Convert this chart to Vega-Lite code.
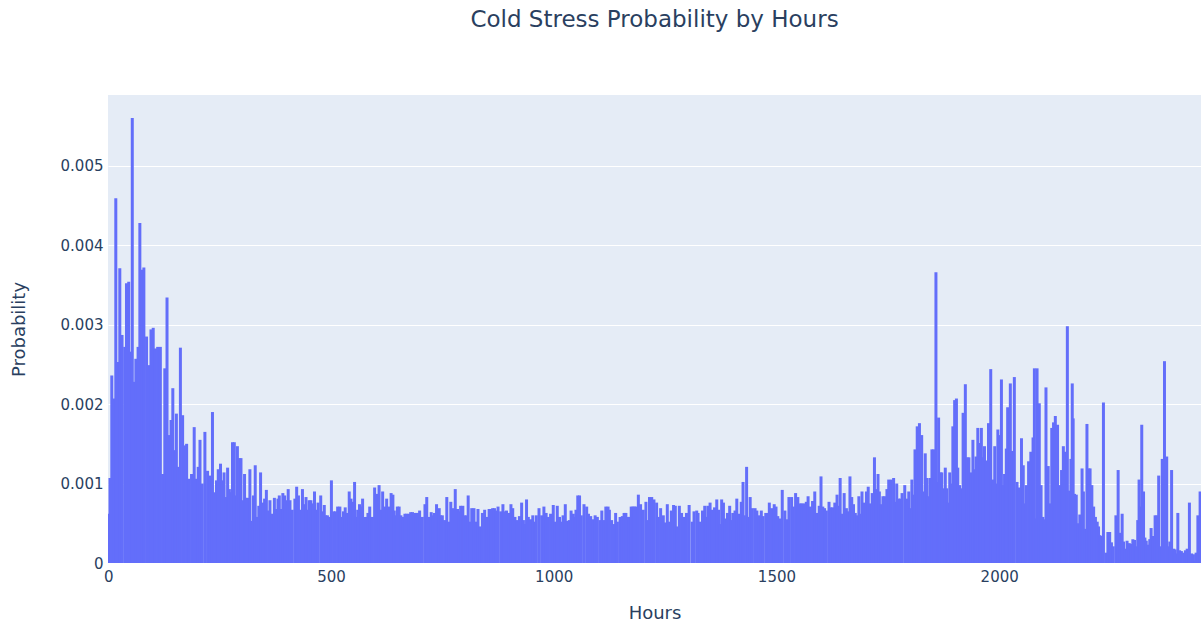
{
  "$schema": "https://vega.github.io/schema/vega-lite/v6.json",
  "width": 1093,
  "height": 468,
  "autosize": {"type": "none"},
  "padding": {"left": 108, "top": 95, "right": 2, "bottom": 62},
  "background": "white",
  "title": {
    "text": "Cold Stress Probability by Hours",
    "font": "DejaVu Sans",
    "fontSize": 23,
    "fontWeight": "normal",
    "color": "#2a3f5f",
    "anchor": "middle",
    "baseline": "alphabetic",
    "offset": 45
  },
  "data": {
    "values": [
{"h":0,"p":0.00062},{"h":4,"p":0.00107},{"h":8,"p":0.00236},{"h":13,"p":0.00207},{"h":17,"p":0.00459},{"h":21,"p":0.00253},{"h":26,"p":0.00371},{"h":31,"p":0.00287},{"h":37,"p":0.00272},{"h":41,"p":0.00352},{"h":46,"p":0.00354},{"h":50,"p":0.00266},{"h":54,"p":0.0056},{"h":59,"p":0.00228},{"h":62,"p":0.00257},{"h":67,"p":0.00272},{"h":71,"p":0.00428},{"h":76,"p":0.00369},{"h":80,"p":0.00372},{"h":86,"p":0.00285},{"h":91,"p":0.00249},{"h":96,"p":0.00294},{"h":101,"p":0.00296},{"h":106,"p":0.0027},{"h":111,"p":0.00272},{"h":117,"p":0.00272},{"h":122,"p":0.00112},{"h":127,"p":0.00245},{"h":132,"p":0.00334},{"h":137,"p":0.00161},{"h":141,"p":0.0018},{"h":145,"p":0.0022},{"h":149,"p":0.00142},{"h":153,"p":0.00188},{"h":157,"p":0.00121},{"h":162,"p":0.00271},{"h":167,"p":0.00186},{"h":171,"p":0.00148},{"h":176,"p":0.0015},{"h":181,"p":0.00106},{"h":187,"p":0.00112},{"h":193,"p":0.00171},{"h":198,"p":0.00106},{"h":202,"p":0.00121},{"h":206,"p":0.00155},{"h":211,"p":0.001},{"h":217,"p":0.00165},
{"h":223,"p":0.00116},{"h":228,"p":0.0011},{"h":234,"p":0.0019},{"h":238,"p":0.00089},{"h":243,"p":0.00104},{"h":247,"p":0.00118},{"h":252,"p":0.00125},{"h":256,"p":0.00104},{"h":260,"p":0.00114},{"h":265,"p":0.00083},{"h":268,"p":0.0012},{"h":272,"p":0.00093},{"h":276,"p":0.00089},{"h":279,"p":0.00152},{"h":283,"p":0.00152},{"h":286,"p":0.00085},{"h":290,"p":0.00147},{"h":294,"p":0.00132},{"h":298,"p":0.00132},{"h":302,"p":0.00079},{"h":306,"p":0.00112},{"h":309,"p":0.00082},{"h":313,"p":0.00082},{"h":318,"p":0.00118},{"h":322,"p":0.00053},{"h":326,"p":0.00085},{"h":330,"p":0.00123},{"h":334,"p":0.00058},{"h":338,"p":0.00072},{"h":342,"p":0.00114},{"h":347,"p":0.00076},{"h":351,"p":0.00081},{"h":355,"p":0.00092},{"h":360,"p":0.00066},{"h":363,"p":0.00079},{"h":368,"p":0.00062},{"h":373,"p":0.00082},{"h":377,"p":0.00068},{"h":381,"p":0.00081},{"h":384,"p":0.00085},{"h":388,"p":0.00068},{"h":392,"p":0.00088},{"h":396,"p":0.00085},{"h":399,"p":0.00079},{"h":404,"p":0.00093},{"h":408,"p":0.00079},{"h":413,"p":0.00067},{"h":419,"p":0.00081},{"h":423,"p":0.00096},{"h":427,"p":0.00085},{"h":432,"p":0.00067},{"h":436,"p":0.00093},{"h":440,"p":0.00074},
{"h":444,"p":0.00083},{"h":448,"p":0.00067},{"h":451,"p":0.00079},{"h":455,"p":0.00079},{"h":459,"p":0.00075},{"h":463,"p":0.0009},{"h":467,"p":0.00067},{"h":471,"p":0.00076},{"h":477,"p":0.00085},{"h":482,"p":0.00065},{"h":485,"p":0.00073},{"h":488,"p":0.0006},{"h":492,"p":0.0006},{"h":496,"p":0.00058},{"h":501,"p":0.00104},{"h":506,"p":0.00065},{"h":510,"p":0.00065},{"h":515,"p":0.00071},{"h":520,"p":0.00071},{"h":524,"p":0.00058},{"h":528,"p":0.00065},{"h":532,"p":0.0007},{"h":536,"p":0.00063},{"h":541,"p":0.0009},{"h":545,"p":0.00081},{"h":549,"p":0.00077},{"h":553,"p":0.00102},{"h":557,"p":0.00058},{"h":560,"p":0.00067},{"h":564,"p":0.00074},{"h":568,"p":0.00071},{"h":571,"p":0.00081},{"h":575,"p":0.00058},{"h":579,"p":0.00058},{"h":583,"p":0.00063},{"h":587,"p":0.00071},{"h":593,"p":0.00058},{"h":598,"p":0.00095},{"h":603,"p":0.00087},{"h":608,"p":0.00098},{"h":613,"p":0.00067},{"h":616,"p":0.0009},{"h":621,"p":0.00071},{"h":625,"p":0.00081},{"h":630,"p":0.00071},{"h":635,"p":0.00088},{"h":639,"p":0.00086},{"h":642,"p":0.00066},{"h":646,"p":0.0006},{"h":649,"p":0.00071},{"h":653,"p":0.00071},{"h":657,"p":0.0006},{"h":661,"p":0.00058},{"h":666,"p":0.00062},{"h":670,"p":0.00062},{"h":675,"p":0.00062},{"h":679,"p":0.00064},{"h":683,"p":0.00064},{"h":687,"p":0.00063},{"h":691,"p":0.00063},{"h":695,"p":0.00063},{"h":699,"p":0.00066},{"h":705,"p":0.00058},{"h":711,"p":0.00074},{"h":715,"p":0.00083},{"h":720,"p":0.00058},{"h":725,"p":0.00064},{"h":729,"p":0.0006},{"h":732,"p":0.00063},{"h":737,"p":0.00074},{"h":743,"p":0.00069},{"h":746,"p":0.0006},{"h":750,"p":0.0006},{"h":755,"p":0.00054},{"h":760,"p":0.00083},{"h":764,"p":0.00052},{"h":769,"p":0.00077},{"h":775,"p":0.00069},{"h":779,"p":0.00093},{"h":784,"p":0.00068},{"h":788,"p":0.00065},{"h":791,"p":0.00072},{"h":796,"p":0.00072},{"h":799,"p":0.0006},{"h":804,"p":0.0006},{"h":808,"p":0.00085},{"h":812,"p":0.00052},{"h":816,"p":0.00069},{"h":821,"p":0.00069},{"h":826,"p":0.00052},{"h":830,"p":0.00068},{"h":835,"p":0.00046},{"h":840,"p":0.00063},{"h":845,"p":0.00067},{"h":851,"p":0.00058},{"h":855,"p":0.00068},{"h":859,"p":0.00068},{"h":863,"p":0.00069},{"h":867,"p":0.00069},
{"h":871,"p":0.00066},{"h":875,"p":0.00071},{"h":881,"p":0.00065},{"h":886,"p":0.00074},{"h":889,"p":0.00065},{"h":894,"p":0.00066},{"h":900,"p":0.00063},{"h":904,"p":0.00074},{"h":908,"p":0.00069},{"h":913,"p":0.00058},{"h":918,"p":0.00054},{"h":923,"p":0.00059},{"h":928,"p":0.00076},{"h":932,"p":0.00054},{"h":935,"p":0.00049},{"h":939,"p":0.0008},{"h":943,"p":0.00058},{"h":948,"p":0.00055},{"h":953,"p":0.0006},{"h":957,"p":0.00052},{"h":961,"p":0.0006},{"h":967,"p":0.00069},{"h":973,"p":0.0006},{"h":978,"p":0.00071},{"h":983,"p":0.00063},{"h":988,"p":0.00058},{"h":993,"p":0.00062},{"h":999,"p":0.00073},{"h":1003,"p":0.00052},{"h":1008,"p":0.00072},{"h":1013,"p":0.00058},{"h":1017,"p":0.00052},{"h":1021,"p":0.0006},{"h":1026,"p":0.00074},{"h":1031,"p":0.00053},{"h":1035,"p":0.00054},{"h":1039,"p":0.00066},{"h":1044,"p":0.00062},{"h":1047,"p":0.00058},{"h":1050,"p":0.00067},{"h":1054,"p":0.00085},{"h":1058,"p":0.00085},{"h":1062,"p":0.0006},{"h":1068,"p":0.00074},{"h":1074,"p":0.00071},{"h":1078,"p":0.00062},{"h":1083,"p":0.00059},{"h":1089,"p":0.00055},{"h":1093,"p":0.0006},{"h":1098,"p":0.00058},{"h":1104,"p":0.00054},{"h":1108,"p":0.00066},{"h":1113,"p":0.00054},{"h":1117,"p":0.00071},{"h":1122,"p":0.00071},{"h":1125,"p":0.00067},{"h":1130,"p":0.00054},{"h":1135,"p":0.00049},{"h":1139,"p":0.00063},{"h":1143,"p":0.00052},{"h":1149,"p":0.00058},{"h":1154,"p":0.00059},{"h":1158,"p":0.00063},{"h":1162,"p":0.00063},{"h":1166,"p":0.00058},{"h":1170,"p":0.00058},{"h":1174,"p":0.00071},{"h":1178,"p":0.00071},{"h":1181,"p":0.00071},{"h":1185,"p":0.00071},{"h":1190,"p":0.00086},{"h":1195,"p":0.00074},{"h":1201,"p":0.00067},{"h":1207,"p":0.00077},{"h":1211,"p":0.00054},{"h":1215,"p":0.00083},{"h":1220,"p":0.00083},{"h":1225,"p":0.0008},{"h":1231,"p":0.00076},{"h":1235,"p":0.00058},{"h":1240,"p":0.00069},{"h":1246,"p":0.0006},{"h":1250,"p":0.00051},{"h":1255,"p":0.00074},{"h":1260,"p":0.00052},{"h":1264,"p":0.00066},{"h":1269,"p":0.00073},{"h":1273,"p":0.00072},{"h":1277,"p":0.00046},{"h":1282,"p":0.00072},{"h":1287,"p":0.00063},{"h":1293,"p":0.00058},{"h":1298,"p":0.00063},{"h":1304,"p":0.00073},
{"h":1311,"p":0.00052},{"h":1315,"p":0.00065},{"h":1321,"p":0.00066},{"h":1324,"p":0.00063},{"h":1328,"p":0.00052},{"h":1334,"p":0.00066},{"h":1339,"p":0.00072},{"h":1342,"p":0.00058},{"h":1346,"p":0.00072},{"h":1351,"p":0.00076},{"h":1356,"p":0.00067},{"h":1361,"p":0.0007},{"h":1366,"p":0.0008},{"h":1370,"p":0.00067},{"h":1373,"p":0.00049},{"h":1377,"p":0.0008},{"h":1381,"p":0.00076},{"h":1385,"p":0.00056},{"h":1390,"p":0.00063},{"h":1395,"p":0.00072},{"h":1398,"p":0.00054},{"h":1402,"p":0.00063},{"h":1407,"p":0.00066},{"h":1411,"p":0.00081},{"h":1416,"p":0.00062},{"h":1421,"p":0.00077},{"h":1425,"p":0.00102},{"h":1428,"p":0.0006},{"h":1433,"p":0.00121},{"h":1437,"p":0.00058},{"h":1441,"p":0.00083},{"h":1446,"p":0.00069},{"h":1452,"p":0.00069},{"h":1456,"p":0.00066},{"h":1461,"p":0.0006},{"h":1466,"p":0.00066},{"h":1470,"p":0.00059},{"h":1476,"p":0.00063},{"h":1481,"p":0.00063},{"h":1484,"p":0.00076},{"h":1489,"p":0.00069},{"h":1495,"p":0.00074},{"h":1499,"p":0.00071},{"h":1503,"p":0.00059},{"h":1508,"p":0.00056},{"h":1513,"p":0.00092},{"h":1519,"p":0.00066},{"h":1523,"p":0.00055},{"h":1528,"p":0.00083},{"h":1534,"p":0.00083},{"h":1538,"p":0.00071},{"h":1543,"p":0.00088},{"h":1548,"p":0.00083},{"h":1553,"p":0.00075},{"h":1557,"p":0.00075},{"h":1562,"p":0.00075},{"h":1567,"p":0.00077},{"h":1571,"p":0.00084},{"h":1576,"p":0.00071},{"h":1581,"p":0.00078},{"h":1586,"p":0.0009},{"h":1591,"p":0.00063},{"h":1596,"p":0.00072},{"h":1600,"p":0.00109},{"h":1604,"p":0.00071},{"h":1608,"p":0.00069},{"h":1612,"p":0.00066},{"h":1618,"p":0.00077},{"h":1622,"p":0.0007},{"h":1626,"p":0.0007},{"h":1631,"p":0.00076},{"h":1636,"p":0.00086},{"h":1639,"p":0.00072},{"h":1643,"p":0.00107},{"h":1647,"p":0.00062},{"h":1652,"p":0.00088},{"h":1657,"p":0.00069},{"h":1660,"p":0.00065},{"h":1665,"p":0.00109},{"h":1669,"p":0.00083},{"h":1673,"p":0.00074},{"h":1677,"p":0.00063},{"h":1681,"p":0.0006},{"h":1685,"p":0.00084},{"h":1688,"p":0.00062},{"h":1692,"p":0.0009},{"h":1697,"p":0.00076},{"h":1702,"p":0.0009},{"h":1706,"p":0.00096},{"h":1711,"p":0.00075},{"h":1715,"p":0.00088},{"h":1720,"p":0.00133},{"h":1724,"p":0.00093},{"h":1728,"p":0.00112},{"h":1731,"p":0.0009},{"h":1735,"p":0.00074},{"h":1739,"p":0.00084},{"h":1743,"p":0.00084},{"h":1748,"p":0.00093},{"h":1752,"p":0.00105},
{"h":1758,"p":0.00105},{"h":1763,"p":0.00107},{"h":1766,"p":0.00077},{"h":1770,"p":0.001},{"h":1774,"p":0.00081},{"h":1778,"p":0.00081},{"h":1782,"p":0.00088},{"h":1788,"p":0.00098},{"h":1793,"p":0.00081},{"h":1797,"p":0.0009},{"h":1800,"p":0.00069},{"h":1804,"p":0.00105},{"h":1808,"p":0.00086},{"h":1811,"p":0.00143},{"h":1816,"p":0.00172},{"h":1821,"p":0.00176},{"h":1826,"p":0.00161},{"h":1830,"p":0.0009},{"h":1834,"p":0.00138},{"h":1838,"p":0.00107},{"h":1841,"p":0.00084},{"h":1845,"p":0.00107},{"h":1849,"p":0.00143},{"h":1853,"p":0.00143},{"h":1858,"p":0.00366},{"h":1862,"p":0.00102},{"h":1864,"p":0.00183},{"h":1868,"p":0.00114},{"h":1871,"p":0.00114},{"h":1875,"p":0.00094},{"h":1879,"p":0.0012},{"h":1882,"p":0.00094},{"h":1885,"p":0.00076},{"h":1889,"p":0.00114},{"h":1892,"p":0.001},{"h":1896,"p":0.00172},{"h":1900,"p":0.00205},{"h":1904,"p":0.00207},{"h":1907,"p":0.0012},{"h":1911,"p":0.00098},{"h":1915,"p":0.00094},{"h":1919,"p":0.00189},{"h":1924,"p":0.00225},{"h":1928,"p":0.00133},{"h":1932,"p":0.00133},{"h":1937,"p":0.00114},{"h":1941,"p":0.00155},{"h":1945,"p":0.00118},{"h":1948,"p":0.00134},{"h":1952,"p":0.0017},{"h":1956,"p":0.00151},{"h":1960,"p":0.0017},{"h":1963,"p":0.00133},{"h":1967,"p":0.00147},{"h":1971,"p":0.00129},{"h":1976,"p":0.00176},{"h":1981,"p":0.00244},{"h":1986,"p":0.00105},{"h":1990,"p":0.00147},
{"h":1994,"p":0.001},{"h":1997,"p":0.00168},{"h":2001,"p":0.00161},{"h":2005,"p":0.00231},{"h":2008,"p":0.00098},{"h":2012,"p":0.00112},{"h":2016,"p":0.00144},{"h":2019,"p":0.00196},{"h":2021,"p":0.00119},{"h":2025,"p":0.00226},{"h":2029,"p":0.00141},{"h":2034,"p":0.00234},{"h":2040,"p":0.00102},{"h":2045,"p":0.00095},{"h":2050,"p":0.00157},{"h":2054,"p":0.00123},{"h":2057,"p":0.00075},{"h":2061,"p":0.00098},{"h":2066,"p":0.00128},{"h":2071,"p":0.0014},{"h":2076,"p":0.00158},{"h":2079,"p":0.00245},{"h":2082,"p":0.00056},{"h":2085,"p":0.00245},{"h":2090,"p":0.00201},{"h":2094,"p":0.00098},{"h":2098,"p":0.00058},{"h":2101,"p":0.00055},{"h":2105,"p":0.00221},{"h":2110,"p":0.00122},{"h":2115,"p":0.00075},{"h":2118,"p":0.0017},{"h":2122,"p":0.00177},{"h":2126,"p":0.00185},{"h":2131,"p":0.00174},{"h":2136,"p":0.00098},{"h":2140,"p":0.00117},{"h":2144,"p":0.00147},{"h":2148,"p":0.0014},{"h":2153,"p":0.00298},{"h":2158,"p":0.00091},{"h":2161,"p":0.00131},{"h":2164,"p":0.00226},{"h":2166,"p":0.00182},{"h":2169,"p":0.00087},{"h":2173,"p":0.00086},{"h":2177,"p":0.0005},{"h":2181,"p":0.00061},{"h":2186,"p":0.00119},{"h":2189,"p":0.0009},{"h":2193,"p":0.00043},{"h":2197,"p":0.00175},{"h":2201,"p":0.00119},{"h":2204,"p":0.00119},{"h":2208,"p":0.00098},{"h":2212,"p":0.00071},{"h":2216,"p":0.00058},{"h":2220,"p":0.00052},{"h":2223,"p":0.00046},{"h":2226,"p":0.00035},
{"h":2229,"p":0.00034},{"h":2234,"p":0.00202},{"h":2240,"p":0.00013},{"h":2244,"p":0.00039},{"h":2248,"p":0.00039},{"h":2252,"p":0.00026},{"h":2256,"p":0.00021},{"h":2262,"p":0.0006},{"h":2267,"p":0.00117},{"h":2272,"p":0.00038},{"h":2276,"p":0.00062},{"h":2279,"p":0.00027},{"h":2283,"p":0.00018},{"h":2287,"p":0.00028},{"h":2292,"p":0.00025},{"h":2296,"p":0.00024},{"h":2300,"p":0.0003},{"h":2304,"p":0.00029},{"h":2308,"p":0.00021},{"h":2311,"p":0.00054},{"h":2314,"p":0.00105},{"h":2317,"p":0.00071},{"h":2320,"p":0.00174},{"h":2324,"p":0.0009},{"h":2327,"p":0.00032},{"h":2330,"p":0.00028},{"h":2334,"p":0.00023},{"h":2338,"p":0.0003},{"h":2341,"p":0.00044},{"h":2346,"p":0.00034},{"h":2350,"p":0.0006},{"h":2354,"p":0.0006},{"h":2358,"p":0.0011},{"h":2362,"p":0.00021},{"h":2366,"p":0.00131},{"h":2371,"p":0.00254},{"h":2376,"p":0.00134},{"h":2380,"p":0.00021},{"h":2383,"p":0.00027},{"h":2387,"p":0.00117},{"h":2392,"p":0.00018},{"h":2395,"p":0.00017},{"h":2398,"p":0.00012},{"h":2401,"p":0.00063},{"h":2405,"p":0.00016},{"h":2409,"p":0.00015},{"h":2414,"p":0.00013},{"h":2418,"p":0.00016},{"h":2422,"p":0.00018},{"h":2427,"p":0.00076},{"h":2432,"p":0.00012},{"h":2436,"p":0.00011},{"h":2439,"p":0.00003},{"h":2442,"p":0.00013},{"h":2446,"p":0.0006},{"h":2451,"p":0.0009}
    ]
  },
  "mark": {"type": "bar", "color": "#636efa", "size": 3, "clip": true},
  "encoding": {
    "x": {
      "field": "h",
      "type": "quantitative",
      "scale": {"domain": [-0.5, 2453], "nice": false, "zero": false, "padding": 0},
      "axis": {
        "title": "Hours",
        "values": [0, 500, 1000, 1500, 2000],
        "format": "d",
        "grid": false,
        "domain": false,
        "ticks": false,
        "labelFlush": false,
        "labelPadding": 6,
        "titlePadding": 20
      }
    },
    "y": {
      "field": "p",
      "type": "quantitative",
      "scale": {"domain": [0, 0.00589], "nice": false},
      "axis": {
        "title": "Probability",
        "values": [0, 0.001, 0.002, 0.003, 0.004, 0.005],
        "format": ".3~f",
        "grid": true,
        "gridColor": "white",
        "gridWidth": 1,
        "domain": false,
        "ticks": false,
        "labelFlush": false,
        "labelPadding": 5,
        "titlePadding": 32
      }
    }
  },
  "config": {
    "view": {"fill": "#E5ECF6", "stroke": null},
    "axis": {
      "labelFont": "DejaVu Sans",
      "labelFontSize": 15,
      "labelColor": "#2a3f5f",
      "titleFont": "DejaVu Sans",
      "titleFontSize": 18,
      "titleFontWeight": "normal",
      "titleColor": "#2a3f5f"
    }
  }
}
